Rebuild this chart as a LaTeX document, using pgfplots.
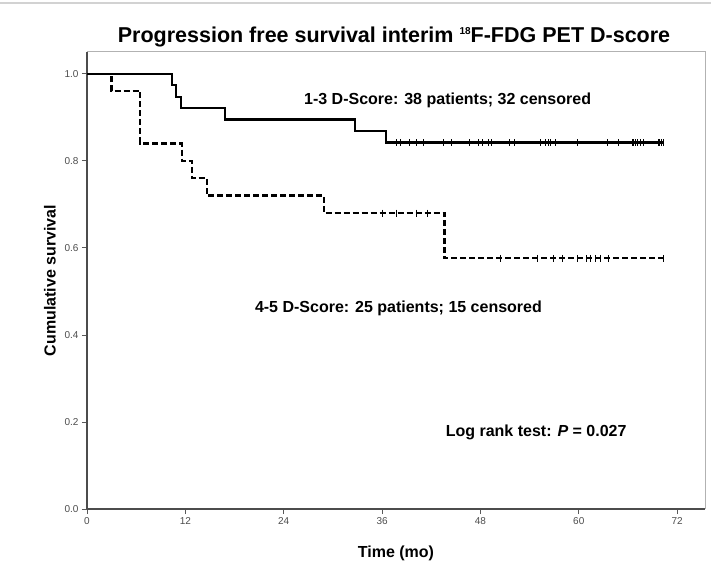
\documentclass[border=0pt]{standalone}
\usepackage{fontspec}
\setmainfont{Liberation Sans}
\usepackage{pgfplots}
\pgfplotsset{compat=1.18}

\begin{document}
\begin{tikzpicture}
\useasboundingbox (-87pt,-64pt) rectangle (624pt,509pt);
% thin grey edge at the top of the original figure
\draw[gray!35, line width=2pt] (-87pt,506pt) -- (624pt,506pt);
\node[font=\bfseries\fontsize{21.5}{25}\selectfont] at (307pt,472pt)
  {Progression free survival interim \raisebox{0.7ex}{\fontsize{10}{12}\selectfont 18}F-FDG PET D-score};
\begin{axis}[
    at={(0pt,0pt)}, anchor=south west,
    width=618pt, height=457pt, scale only axis,
    xmin=0, xmax=75.4, ymin=0, ymax=1.05,
    axis lines*=left,
    xtick={0,12,...,72},
    ytick={0,0.2,0.4,0.6,0.8,1.0},
    yticklabel style={/pgf/number format/fixed,
        /pgf/number format/fixed zerofill,
        /pgf/number format/precision=1},
    /pgf/number format/assume math mode=true,
    tick align=outside,
    major tick length=5pt,
    tick style={gray!70!black, line width=0.8pt},
    axis line style={-, gray!60!black, line width=1.2pt},
    ticklabel style={font=\fontsize{10}{12}\selectfont, text=gray!60!black},
    xlabel={\bfseries Time (mo)},
    ylabel={\bfseries Cumulative survival},
    label style={font=\fontsize{16}{19}\selectfont},
    xlabel style={at={(axis description cs:0.5,0)}, anchor=center, yshift=-44pt},
    ylabel style={at={(axis description cs:-0.06,0.5)}, anchor=center},
    clip=false,
]
% lighter frame on top and right
\draw[gray!60, line width=1pt] (rel axis cs:0,1) -- (rel axis cs:1,1) -- (rel axis cs:1,0);
% 1-3 D-score
\addplot[const plot, black, line width=2.3pt] coordinates {
    (0,1) (10.4,0.974) (10.9,0.947) (11.5,0.921) (16.8,0.895)
    (32.7,0.868) (36.5,0.842) (70.3,0.842)
};
\addplot[only marks, mark=|, mark size=3.5pt, mark options={black, line width=1pt}] coordinates {
    (37.8,0.842) (38.2,0.842) (39.4,0.842) (40.2,0.842) (41.1,0.842) (43.5,0.842)
    (44.5,0.842) (46.7,0.842) (47.8,0.842) (48.2,0.842) (49.0,0.842) (49.3,0.842)
    (51.6,0.842) (52.1,0.842) (55.3,0.842) (55.9,0.842) (56.3,0.842) (56.6,0.842)
    (57.1,0.842) (59.8,0.842) (63.5,0.842) (64.8,0.842) (66.5,0.842) (66.7,0.842)
    (66.9,0.842) (67.2,0.842) (67.5,0.842) (67.9,0.842) (69.7,0.842) (69.9,0.842)
    (70.1,0.842) (70.3,0.842)
};
% 4-5 D-score
\addplot[const plot, black, line width=2.3pt, dash pattern=on 6pt off 3pt] coordinates {
    (0,1) (3.0,0.96) (6.5,0.84) (11.6,0.80) (12.8,0.76) (14.6,0.72)
    (28.9,0.68) (43.6,0.576) (70.3,0.576)
};
\addplot[only marks, mark=|, mark size=3.5pt, mark options={black, line width=1pt}] coordinates {
    (36.0,0.68) (37.8,0.68) (40.2,0.68) (41.6,0.68)
    (50.5,0.576) (55.0,0.576) (56.9,0.576) (58.0,0.576) (59.8,0.576) (61.0,0.576)
    (61.4,0.576) (62.0,0.576) (62.6,0.576) (63.6,0.576) (70.3,0.576)
};
\node[font=\bfseries\fontsize{16}{19}\selectfont] at (axis cs:44,0.94)
    {1-3 D-Score: 38 patients; 32 censored};
\node[font=\bfseries\fontsize{16}{19}\selectfont] at (axis cs:38,0.462)
    {4-5 D-Score: 25 patients; 15 censored};
\node[font=\bfseries\fontsize{16}{19}\selectfont] at (axis cs:54.8,0.177)
    {Log rank test: \textit{P} = 0.027};
\end{axis}
\end{tikzpicture}
\end{document}
